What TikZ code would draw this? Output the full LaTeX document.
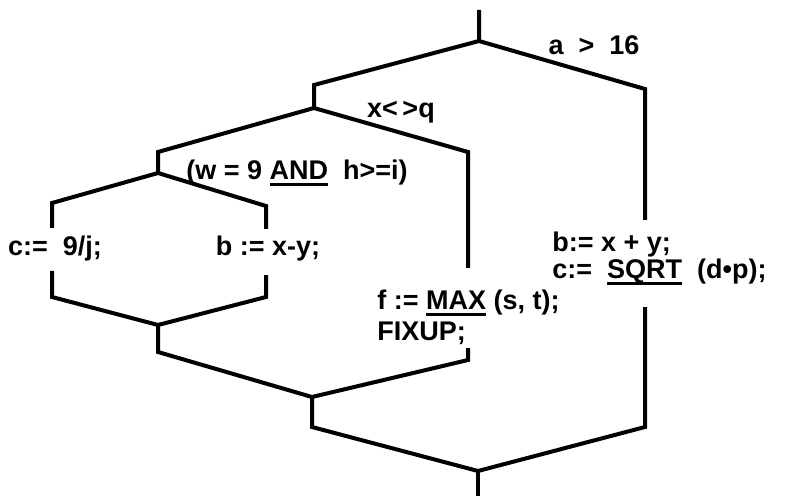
\documentclass[tikz,border=0pt]{standalone}
\usepackage{fontspec}
\setmainfont{Liberation Sans}
\usetikzlibrary{positioning}
\newcommand{\kw}[1]{\setbox0\hbox{#1}\rlap{\rule[-3.2pt]{\wd0}{1.3pt}}\box0\relax}

\begin{document}
\begin{tikzpicture}[x=0.5pt,y=-0.5pt,
    flow/.style={line width=2pt},
    lbl/.style={font=\bfseries\fontsize{13.5}{16}\selectfont,inner sep=0pt}]
    \useasboundingbox (0,0) rectangle (785,496);
    % outer choice a > 16
    \coordinate (top) at (479,10);
    \coordinate (f1) at (479,41);
    \coordinate (a1L) at (314,85);
    \coordinate (f2) at (314,108);
    \coordinate (a1R) at (645,89);
    \coordinate (a1Rend) at (645,220);
    \coordinate (a1Rbeg) at (645,307);
    \coordinate (a1Rbot) at (645,427);
    \coordinate (j1) at (478,471);
    \coordinate (bot) at (478,496);
    % choice x<>q
    \coordinate (b1L) at (158,152);
    \coordinate (f3) at (158,173);
    \coordinate (b1R) at (468,152);
    \coordinate (b1Rend) at (468,268);
    \coordinate (b1Rbeg) at (468,348);
    \coordinate (b1Rbot) at (468,360);
    \coordinate (j2) at (312,397);
    \coordinate (j2dn) at (312,427);
    % choice w = 9 AND h >= i
    \coordinate (c1L) at (52,203);
    \coordinate (c1Lend) at (52,228);
    \coordinate (c1Lbeg) at (52,271);
    \coordinate (c1Lbot) at (52,297);
    \coordinate (c1R) at (266,206);
    \coordinate (c1Rend) at (266,229);
    \coordinate (c1Rbeg) at (266,275);
    \coordinate (c1Rbot) at (266,297);
    \coordinate (j3) at (158,325);
    \coordinate (j3dn) at (158,352);

    \draw[flow] (top) -- (f1) -- (a1L) -- (f2) -- (b1L) -- (f3) -- (c1L) -- (c1Lend);
    \draw[flow] (f1) -- (a1R) -- (a1Rend);
    \draw[flow] (f2) -- (b1R) -- (b1Rend);
    \draw[flow] (f3) -- (c1R) -- (c1Rend);
    \draw[flow] (c1Lbeg) -- (c1Lbot) -- (j3) -- (c1Rbot) -- (c1Rbeg);
    \draw[flow] (j3) -- (j3dn) -- (j2) -- (b1Rbot) -- (b1Rbeg);
    \draw[flow] (j2) -- (j2dn) -- (j1) -- (a1Rbot) -- (a1Rbeg);
    \draw[flow] (j1) -- (bot);

    \node[lbl] (condA) at (594,45) {a \ > \ 16};
    \node[lbl] (condX) at (401,112) {x<\,>q};
    \node[lbl] (condW) at (297,173) {(w = 9 \kw{AND}\ \ h>=i)};
    \node[lbl] (setC) at (55,249) {c:=\ \ 9/j;};
    \node[lbl] (setB) at (268,249) {b := x-y;};
    \node[lbl,anchor=west] (setF) at (377,303) {f := \kw{MAX} (s, t);};
    \node[lbl,anchor=west] (fixup) at (377,333) {FIXUP;};
    \node[lbl,anchor=west] (sumB) at (552,245) {b:= x + y;};
    \node[lbl,anchor=west] (sqrtC) at (552,272) {c:=\ \ \kw{SQRT}\ \ (d•p);};
\end{tikzpicture}
\end{document}
